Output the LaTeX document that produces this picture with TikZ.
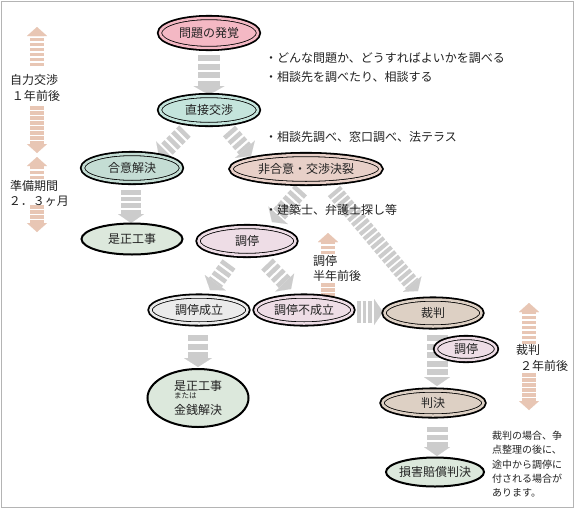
\documentclass[tikz,border=0pt]{standalone}
\usepackage{fontspec}
\setmainfont{Noto Sans CJK JP}
\usetikzlibrary{shapes.geometric,arrows.meta,calc}
\pgfdeclarelayer{bg}
\pgfsetlayers{bg,main}
\definecolor{cPink}{HTML}{F4B8C4}
\definecolor{cTeal}{HTML}{C4E4DC}
\definecolor{cTealB}{HTML}{C4DDD4}
\definecolor{cRose}{HTML}{E8D0C8}
\definecolor{cGreen}{HTML}{DCE8DC}
\definecolor{cLav}{HTML}{EEDDE6}
\definecolor{cGrey}{HTML}{EBEBEB}
\definecolor{cBeige}{HTML}{DDD0C4}
\definecolor{aGray}{HTML}{CCCCCC}
\definecolor{aPink}{HTML}{E8C6B4}
\definecolor{frameC}{HTML}{B4B4B4}
\definecolor{txtC}{HTML}{222222}
\begin{document}
\begin{tikzpicture}[x=1pt,y=-1pt,
  dbl/.style={ellipse, draw=black, line width=0.8pt, double=#1, double distance=2.5pt,
    fill=#1, preaction={draw=black, line width=6.1pt}, inner sep=0pt,
    text=txtC, font=\fontsize{12}{14}\selectfont},
  sgl/.style={ellipse, draw=black, line width=2pt, fill=#1, inner sep=0pt,
    text=txtC, font=\fontsize{12}{14}\selectfont},
  garrow/.style n args={4}{draw=aGray, line width=#1, dash pattern=on #3 off #4,
    -{Triangle[width=#2,length=9pt,line width=0.01pt]}},
  parrow/.style={draw=aPink, line width=14pt, dash pattern=on 3.5pt off 1.5pt,
    -{Triangle[width=20pt,length=9pt,line width=0.01pt]}},
  txt/.style={inner sep=0pt, text=txtC, font=\fontsize{12}{14}\selectfont},
  stxt/.style={inner sep=0pt, text=txtC, font=\fontsize{10}{14.2}\selectfont}
]
\useasboundingbox (0,0) rectangle (575,509);

% nodes
\node[dbl=cPink, minimum width=98pt, minimum height=30pt] (p1) at (209,33) {問題の発覚};
\node[dbl=cTeal, minimum width=98pt, minimum height=28pt] (p2) at (209,110) {直接交渉};
\node[dbl=cTealB, minimum width=98pt, minimum height=28pt] (gou) at (132,168) {合意解決};
\node[dbl=cRose, minimum width=149pt, minimum height=28pt] (hi) at (306,169) {非合意・交渉決裂};
\node[sgl=cGreen, minimum width=101pt, minimum height=31pt] (ze) at (132,239) {是正工事};
\node[dbl=cLav, minimum width=97pt, minimum height=28pt] (ch) at (247,241) {調停};
\node[dbl=cGrey, minimum width=97pt, minimum height=27pt] (se) at (199,310) {調停成立};
\node[dbl=cLav, minimum width=97pt, minimum height=27pt] (fu) at (304,310) {調停不成立};
\node[dbl=cBeige, minimum width=97pt, minimum height=27pt] (sa) at (433,313) {裁判};
\node[dbl=cBeige, minimum width=101pt, minimum height=25pt] (ha) at (433,403) {判決};
\node[sgl=cGreen, minimum width=98pt, minimum height=29pt] (so) at (435,472) {\makebox[60pt]{損害賠償判決}};
\node[sgl=cGreen, minimum width=101pt, minimum height=58pt] (ki) at (198,398)
  {\vbox{\offinterlineskip\hbox{是正工事}\kern0.5pt\hbox{\fontsize{7.5}{7.5}\selectfont または}\kern5.5pt\hbox{金銭解決}}};

% background, frame and connectors (behind the nodes)
\begin{pgfonlayer}{bg}
\fill[white] (0,0) rectangle (575,509);
\draw[frameC, line width=1pt] (1,1) rectangle (573.5,507);
\draw[garrow={22pt}{31pt}{6pt}{2.5pt}] ([shift={(0,22)}]p1.center) -- ([shift={(0,-15)}]p2.center);
\draw[garrow={16pt}{26pt}{4.5pt}{2.5pt}] ([shift={(-24,21)}]p2.center) -- ([shift={(27,-11)}]gou.center);
\draw[garrow={16pt}{26pt}{4.5pt}{2.5pt}] ([shift={(20,21)}]p2.center) -- ([shift={(-55,-13)}]hi.center);
\draw[garrow={20pt}{26pt}{4.5pt}{2pt}] ([shift={(-1,22)}]gou.center) -- ([shift={(-1,-16)}]ze.center);
\draw[garrow={16pt}{26pt}{4.5pt}{2.5pt}] ([shift={(-5,21)}]hi.center) -- ([shift={(25,-19)}]ch.center);
\draw[garrow={16pt}{24pt}{4pt}{2pt}] ([shift={(28,22)}]hi.center) -- ([shift={(-15,-22)}]sa.center);
\draw[garrow={16pt}{26pt}{4.5pt}{2.5pt}] ([shift={(-18,23)}]ch.center) -- ([shift={(11,-20)}]se.center);
\draw[garrow={16pt}{26pt}{4.5pt}{2.5pt}] ([shift={(20,23)}]ch.center) -- ([shift={(-13,-21)}]fu.center);
\draw[garrow={22pt}{26pt}{3.5pt}{2pt}] ([shift={(53,2)}]fu.center) -- ([shift={(-50,-1)}]sa.center);
\draw[garrow={20pt}{28pt}{6pt}{2.5pt}] ([shift={(-1,25)}]se.center) -- ([shift={(0,-31)}]ki.center);
\draw[garrow={21pt}{26pt}{6pt}{2.5pt}] ([shift={(4,22)}]sa.center) -- ([shift={(4,-17)}]ha.center);
\draw[garrow={21pt}{26pt}{5pt}{2.5pt}] ([shift={(4,24)}]ha.center) -- ([shift={(2,-16)}]so.center);

% period indicators
\draw[parrow] (37,66) -- (37,27);
\draw[parrow] (37,106) -- (37,153);
\draw[parrow] (37,179) -- (37,157);
\draw[parrow] (37,205) -- (37,232);
\draw[parrow] (328,254) -- (328,233);
\draw[parrow] (328,283) -- (328,315);
\draw[parrow] (529,344) -- (529,303);
\draw[parrow] (529,373) -- (529,410);
\end{pgfonlayer}

\node[dbl=cLav, minimum width=60pt, minimum height=22pt] (ch2) at (466,349) {調停};

% labels
\node[txt] (l1) at (34,80) {自力交渉};
\node[txt] (l2) at (36,96) {１年前後};
\node[txt] (l3) at (34,186) {準備期間};
\node[txt] (l4) at (39,201) {２．３ヶ月};
\node[txt, anchor=west] (m1) at (313,261) {調停};
\node[txt, anchor=west] (m2) at (313,276) {半年前後};
\node[txt, anchor=west] (r1) at (516,350) {裁判};
\node[txt, anchor=west] (r2) at (520,366) {２年前後};

\node[txt, anchor=west] (b1) at (265,58) {・どんな問題か、どうすればよいかを調べる};
\node[txt, anchor=west] (b2) at (265,77) {・相談先を調べたり、相談する};
\node[txt, anchor=west] (b3) at (265,137) {・相談先調べ、窓口調べ、法テラス};
\node[txt, anchor=west] (b4) at (265,210) {・建築士、弁護士探し等};

\node[stxt, anchor=north west, align=left] (note) at (492,431)
  {裁判の場合、争\\点整理の後に、\\途中から調停に\\付される場合が\\あります。};
\end{tikzpicture}
\end{document}
